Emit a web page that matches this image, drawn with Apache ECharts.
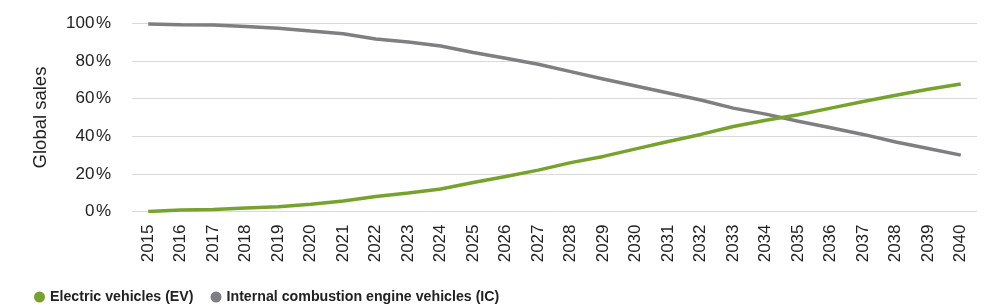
<!DOCTYPE html>
<html><head><meta charset="utf-8">
<script src="https://cdn.jsdelivr.net/npm/echarts@6/dist/echarts.min.js"></script>
<style>html,body{margin:0;padding:0;background:#fff}#c{width:1000px;height:305px}</style>
</head><body><div id="c"></div>
<script>
const years = ['2015','2016','2017','2018','2019','2020','2021','2022','2023','2024','2025','2026','2027','2028','2029','2030','2031','2032','2033','2034','2035','2036','2037','2038','2039','2040'];
const evShare = [0,0.8,1,1.8,2.5,3.8,5.6,8,9.8,12,15.4,18.6,22,26,29.3,33.3,37.2,41,45.2,48.5,51.5,55,58.5,61.8,65,67.8];
const icShare = [99.8,99.3,99.2,98.4,97.5,96,94.6,91.8,90.2,88,84.6,81.5,78.3,74.4,70.5,66.8,63,59.3,55,51.8,48,44.5,41,37,33.5,30];
const yTicks = {min:0,max:100,interval:20};
const chart = echarts.init(document.getElementById('c'));
chart.setOption({
  animation:false,
  grid:{left:132,right:23,top:23.5,bottom:93.5,containLabel:false},
  legend:{left:29,top:285,itemWidth:11,itemHeight:11,itemGap:17,icon:'circle',
    textStyle:{fontFamily:'Liberation Sans',fontWeight:'bold',fontSize:14.2,color:'#222'},
    data:['Electric vehicles (EV)','Internal combustion engine vehicles (IC)']},
  xAxis:{type:'category',data:years,boundaryGap:true,
    axisLine:{show:false},axisTick:{show:false},
    axisLabel:{rotate:90,interval:0,margin:13,fontFamily:'Liberation Sans',fontSize:17,color:'#222'}},
  yAxis:{type:'value',min:yTicks.min,max:yTicks.max,interval:yTicks.interval,
    name:'Global sales',nameLocation:'middle',nameGap:82,nameRotate:90,
    nameTextStyle:{fontFamily:'Liberation Sans',fontSize:18.5,color:'#222'},
    axisLabel:{formatter:'{value}\u200a%',margin:21,fontFamily:'Liberation Sans',fontSize:17,color:'#222'},
    splitLine:{lineStyle:{color:'#d9d9d9',width:1}},axisLine:{show:false},axisTick:{show:false}},
  series:[
    {name:'Electric vehicles (EV)',type:'line',data:evShare,showSymbol:false,symbol:'circle',
      lineStyle:{color:'#77a22d',width:3.5},itemStyle:{color:'#77a22d'},z:3},
    {name:'Internal combustion engine vehicles (IC)',type:'line',data:icShare,showSymbol:false,symbol:'circle',
      lineStyle:{color:'#7e7e83',width:3.5},itemStyle:{color:'#7e7e83'},z:2}
  ]
});
</script></body></html>
